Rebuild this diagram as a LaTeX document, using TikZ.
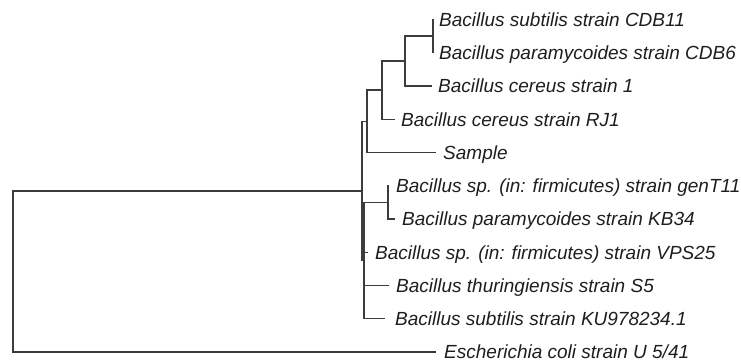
\documentclass[tikz,border=0pt]{standalone}
\usepackage{fontspec}
\setmainfont{Liberation Sans}
\begin{document}
\begin{tikzpicture}[x=1pt,y=-1pt,
  br/.style={draw={rgb,255:red,60;green,60;blue,60},line width=1.3pt,line cap=rect},
  lab/.style={anchor=base west,inner sep=0pt,font=\fontsize{19}{19}\selectfont\itshape,text={rgb,255:red,30;green,30;blue,30}}]
\useasboundingbox (0,0) rectangle (741,363);
% tips
\coordinate (t1) at (433,19.5);
\coordinate (t2) at (433,52.75);
\coordinate (t3) at (431,86);
\coordinate (t4) at (394,119.25);
\coordinate (t5) at (435,152.5);
\coordinate (t6) at (388,185.75);
\coordinate (t7) at (394,219);
\coordinate (t8) at (367,252.25);
\coordinate (t9) at (388,285.5);
\coordinate (t10) at (384,318.75);
\coordinate (t11) at (435,352);
% internal nodes
\coordinate (X) at (433,36.1);
\coordinate (W) at (405,61);
\coordinate (V) at (382,90.1);
\coordinate (U) at (367,121.3);
\coordinate (Y) at (388,202.4);
\coordinate (L) at (364,260.6);
\coordinate (A) at (362,191);
\coordinate (R) at (13,271.5);
% branches
\draw[br] (t1) -| (X); \draw[br] (t2) -| (X);
\draw[br] (X) -| (W); \draw[br] (t3) -| (W);
\draw[br] (W) -| (V); \draw[br] (t4) -| (V);
\draw[br] (V) -| (U); \draw[br] (t5) -| (U);
\draw[br] (t6) -| (Y); \draw[br] (t7) -| (Y);
\draw[br] (Y) -| (L); \draw[br] (t8) -| (L); \draw[br] (t9) -| (L); \draw[br] (t10) -| (L);
\draw[br] (U) -| (A); \draw[br] (L) -| (A);
\draw[br] (A) -| (R); \draw[br] (t11) -| (R);
% labels
\node[lab] (l1) at (439,26.3) {Bacillus subtilis strain CDB11};
\node[lab] (l2) at (439,59.55) {Bacillus paramycoides strain CDB6};
\node[lab] (l3) at (438,92.8) {Bacillus cereus strain 1};
\node[lab] (l4) at (401,126.05) {Bacillus cereus strain RJ1};
\node[lab] (l5) at (443,159.3) {Sample};
\node[lab] (l6) at (396,192.55) {Bacillus sp. (in: firmicutes) strain genT11};
\node[lab] (l7) at (402,225.8) {Bacillus paramycoides strain KB34};
\node[lab] (l8) at (375,259.05) {Bacillus sp. (in: firmicutes) strain VPS25};
\node[lab] (l9) at (396,292.3) {Bacillus thuringiensis strain S5};
\node[lab] (l10) at (395,325.55) {Bacillus subtilis strain KU978234.1};
\node[lab] (l11) at (444,358.8) {Escherichia coli strain U 5/41};
\end{tikzpicture}
\end{document}
